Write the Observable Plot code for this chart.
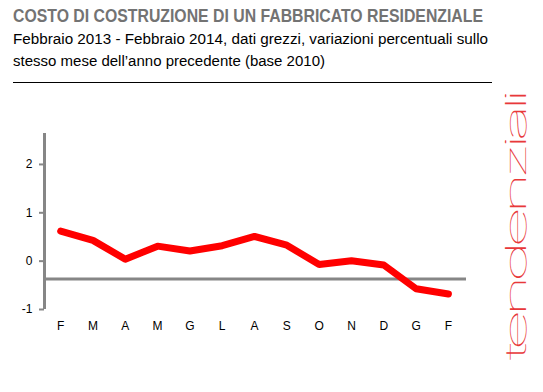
<!DOCTYPE html>
<html>
<head>
<meta charset="utf-8">
<script src="https://cdn.jsdelivr.net/npm/d3@7"></script>
<script src="https://cdn.jsdelivr.net/npm/@observablehq/plot@0.6"></script>
<style>
  html, body { margin: 0; padding: 0; background: #fff; }
  #wrap { position: relative; width: 543px; height: 392px; overflow: hidden; font-family: "Liberation Sans", Arial, sans-serif; }
  .hl { position: absolute; left: 13px; white-space: nowrap; transform-origin: 0 0; line-height: 1; }
  #title { top: 6px; font-size: 19px; font-weight: bold; color: #737373; }
  #sub1 { top: 30.5px; font-size: 15.5px; color: #000; }
  #sub2 { top: 52.5px; font-size: 15.5px; color: #000; }
  #hr { position: absolute; left: 13px; top: 82px; width: 479px; height: 0; border-top: 1.5px solid #000; }
  #chart { position: absolute; left: 0; top: 120px; }
  #side { position: absolute; left: 480px; top: 80px; }
</style>
</head>
<body>
<div id="wrap">
  <div id="title" class="hl" data-w="470">COSTO DI COSTRUZIONE DI UN FABBRICATO RESIDENZIALE</div>
  <div id="sub1" class="hl" data-w="475">Febbraio 2013 - Febbraio 2014, dati grezzi, variazioni percentuali sullo</div>
  <div id="sub2" class="hl" data-w="312">stesso mese dell’anno precedente (base 2010)</div>
  <div id="hr"></div>
  <div id="chart"></div>
  <svg id="side" width="63" height="300">
    <text id="tend" font-family="Inter, Lato, sans-serif" font-weight="100" font-size="28" letter-spacing="-3" fill="#e8383a">tendenziali</text>
  </svg>
</div>
<script>
document.querySelectorAll(".hl").forEach(el => {
  const w = el.getBoundingClientRect().width;
  const target = +el.dataset.w;
  el.style.transform = `scaleX(${target / w})`;
});
{
  const t = document.getElementById("tend");
  const len = t.getBBox().width;
  t.setAttribute("transform", `translate(46,280) rotate(-90) scale(${267 / len},1)`);
}

const months = ["F", "M", "A", "M", "G", "L", "A", "S", "O", "N", "D", "G", "F"];
const values = [0.62, 0.43, 0.04, 0.31, 0.21, 0.32, 0.51, 0.33, -0.07, 0.01, -0.08, -0.57, -0.68];
const yTicks = [-1, 0, 1, 2];
const baseline = -0.37;

const data = months.map((m, i) => ({i, m, v: values[i]}));

const chart = Plot.plot({
  width: 480,
  height: 225,
  marginLeft: 44,
  marginRight: 14,
  marginTop: 13,
  marginBottom: 36,
  style: {fontFamily: "Liberation Sans, Arial, sans-serif", fontSize: "12px", color: "#000", background: "transparent"},
  x: {domain: [-0.5, 12.56], axis: null},
  y: {domain: [-1, 2.64], axis: null},
  marks: [
    Plot.ruleY([baseline], {x1: -0.5, x2: 12.56, stroke: "#868686", strokeWidth: 3}),
    Plot.ruleX([-0.5], {y1: -1, y2: 2.64, stroke: "#868686", strokeWidth: 3}),
    Plot.axisY({ticks: yTicks, tickFormat: d => String(d), tickSize: 5, tickPadding: 7, stroke: "#868686", strokeWidth: 2, fill: "#000", fontSize: 12, label: null}),
    Plot.axisX({ticks: d3.range(months.length), tickFormat: i => months[i], tickSize: 0, tickPadding: 12, fill: "#000", fontSize: 12, anchor: "bottom", label: null}),
    Plot.line(data, {x: "i", y: "v", stroke: "#ff0000", strokeWidth: 7, strokeLinejoin: "round", strokeLinecap: "round"})
  ]
});
document.getElementById("chart").appendChild(chart);
</script>
</body>
</html>
